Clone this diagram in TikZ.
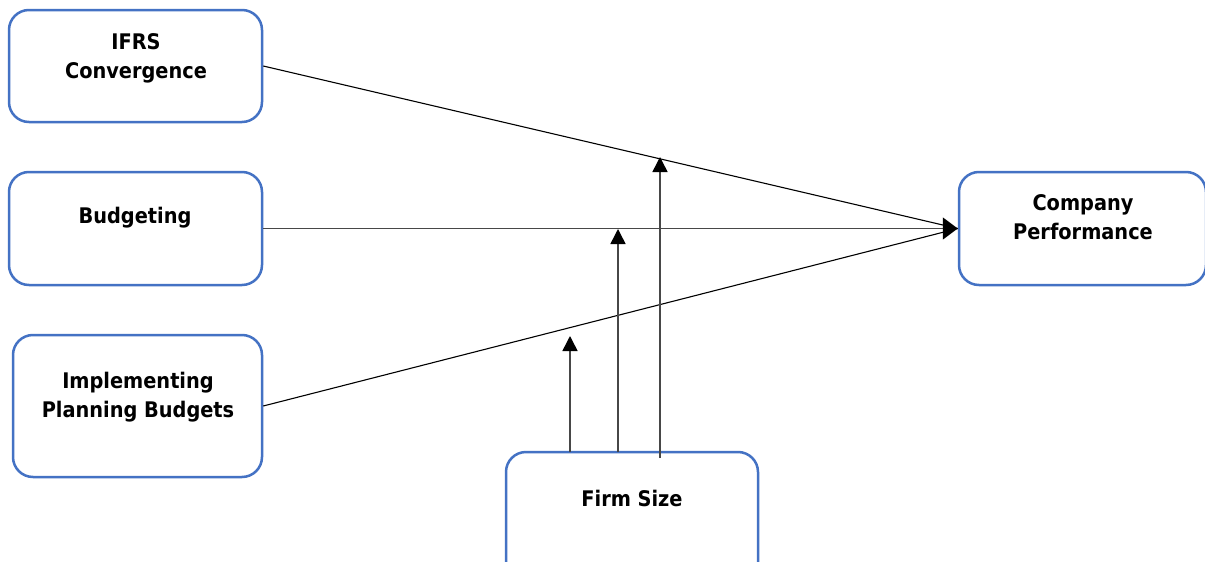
\documentclass[tikz,border=0pt]{standalone}
\usepackage{fontspec}
\setmainfont{DejaVu Sans Condensed}
\usetikzlibrary{arrows.meta,calc}
\begin{document}
\begin{tikzpicture}[x=1pt,y=-1pt,
  box/.style={draw=boxblue,line width=2.5pt,rounded corners=20pt,fill=white},
  lbl/.style={font=\bfseries\fontsize{21.5}{29}\selectfont,align=center,text=black,inner sep=0pt},
  conn/.style={line width=1.5pt,draw=black!72},
  thin/.style={line width=1.1pt,draw=black},
  tip/.style={-{Triangle[width=15pt,length=15pt,black]}}
]
\definecolor{boxblue}{HTML}{4472C4}
\useasboundingbox (0,0) rectangle (1205,562);
\clip (0,0) rectangle (1205,562);
\fill[white] (0,0) rectangle (1205,562);
% boxes
\node[box,minimum width=253pt,minimum height=112pt] (ifrs) at (135.5,66) {};
\node[box,minimum width=253pt,minimum height=113pt] (bud) at (135.5,228.5) {};
\node[box,minimum width=249pt,minimum height=142pt] (impl) at (137.5,406) {};
\node[box,minimum width=247pt,minimum height=113pt] (cp) at (1082.5,228.5) {};
\node[box,minimum width=252pt,minimum height=150pt] (fs) at (632,527) {};
% labels
\node[lbl] (tifrs) at (136,58) {IFRS\\Convergence};
\node[lbl] (tbud) at (135,218) {Budgeting};
\node[lbl] (timpl) at (138,397) {Implementing\\Planning Budgets};
\node[lbl] (tcp) at (1083,217.5) {Company\\Performance};
\node[lbl] (tfs) at (632,498) {Firm Size};
% converging connectors
\draw[thin] (ifrs.east) -- (cp.west);
\draw[thin] (impl.east) -- (cp.west);
\draw[conn,-{Triangle[width=22pt,length=15pt,black]}] (bud.east) -- (cp.west);
% moderator arrows
\coordinate (m1) at (570,336);
\coordinate (m2) at (618,229);
\coordinate (m3) at (660,157);
\coordinate (s1) at (570,452);
\coordinate (s2) at (618,452);
\coordinate (s3) at (660,458);
\draw[conn,tip] (s1) -- (m1);
\draw[conn,tip] (s2) -- (m2);
\draw[conn,tip] (s3) -- (m3);
\end{tikzpicture}
\end{document}
